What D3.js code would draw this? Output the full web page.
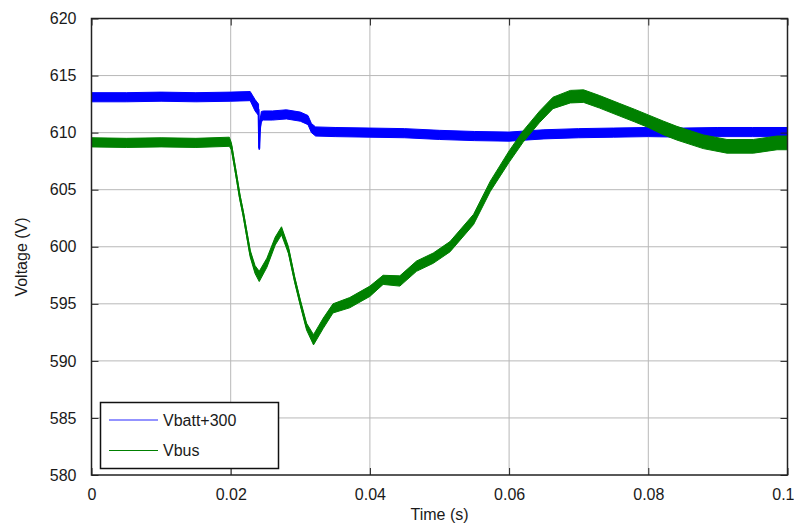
<!DOCTYPE html>
<html>
<head>
<meta charset="utf-8">
<script src="https://cdn.jsdelivr.net/npm/d3@7"></script>
<style>
  body { margin: 0; background: #fff; }
  text { font-family: "Liberation Sans", Arial, sans-serif; fill: #1a1a1a; }
</style>
</head>
<body>
<svg id="chart" width="794" height="529"></svg>
<script>
// Vbatt+300 : time (s), voltage (V), noise half-band (V)
const battT = [0, 0.005, 0.01, 0.015, 0.02, 0.0228, 0.0235, 0.024, 0.0241, 0.0242,
  0.0244, 0.0247, 0.026, 0.028, 0.030, 0.0311, 0.0316, 0.0322, 0.035, 0.04,
  0.045, 0.05, 0.055, 0.06, 0.065, 0.07, 0.075, 0.08, 0.085, 0.09, 0.095, 0.1];
const battV = [613.1, 613.1, 613.15, 613.1, 613.15, 613.2, 612.4, 612.0, 608.6, 610.5,
  611.4, 611.5, 611.5, 611.6, 611.4, 611.1, 610.4, 610.1, 610.05, 610.0,
  609.95, 609.8, 609.7, 609.65, 609.85, 609.95, 610.0, 610.05, 610.0, 610.05, 610.05, 610.05];
const battN = [0.4, 0.4, 0.4, 0.4, 0.4, 0.4, 0.5, 0.5, 0.1, 0.5,
  0.45, 0.4, 0.4, 0.4, 0.4, 0.4, 0.4, 0.4, 0.4, 0.4,
  0.4, 0.4, 0.4, 0.4, 0.4, 0.4, 0.4, 0.4, 0.4, 0.4, 0.4, 0.4];

// Vbus
const busT = [0, 0.005, 0.01, 0.015, 0.0198, 0.0201, 0.0205, 0.0209, 0.0213, 0.0218,
  0.0228, 0.0235, 0.0241, 0.0252, 0.0264, 0.0273, 0.0283, 0.0292, 0.03, 0.0309,
  0.0319, 0.0333, 0.0347, 0.0371, 0.04, 0.0419, 0.0443, 0.0467, 0.0491, 0.0515,
  0.0549, 0.0573, 0.06, 0.062, 0.0644, 0.0663, 0.0688, 0.0707, 0.073, 0.0759,
  0.078, 0.08, 0.0822, 0.0841, 0.0879, 0.0913, 0.0951, 0.0985, 0.1];
const busV = [609.15, 609.1, 609.15, 609.1, 609.2, 608.8, 607.35, 605.9, 604.4, 602.9,
  599.4, 598.0, 597.4, 598.6, 600.5, 601.4, 599.7, 597.1, 595.1, 593.0,
  591.85, 593.3, 594.6, 595.1, 596.1, 597.1, 597.0, 598.3, 599.0, 600.0,
  602.4, 605.3, 607.9, 609.65, 611.4, 612.6, 613.15, 613.2, 612.7, 612.0,
  611.5, 611.0, 610.4, 609.95, 609.2, 608.8, 608.8, 609.1, 609.1];
const busN = [0.4, 0.4, 0.4, 0.4, 0.4, 0.3, 0.25, 0.25, 0.25, 0.25,
  0.3, 0.35, 0.45, 0.4, 0.35, 0.35, 0.3, 0.25, 0.25, 0.3,
  0.45, 0.45, 0.4, 0.45, 0.45, 0.4, 0.45, 0.45, 0.45, 0.45,
  0.45, 0.45, 0.5, 0.5, 0.5, 0.5, 0.55, 0.55, 0.55, 0.55,
  0.55, 0.55, 0.6, 0.6, 0.6, 0.6, 0.6, 0.6, 0.6];

const xTicks = [0, 0.02, 0.04, 0.06, 0.08, 0.1];
const yTicks = [580, 585, 590, 595, 600, 605, 610, 615, 620];
const seriesNames = ["Vbatt+300", "Vbus"];

const svg = d3.select("#chart");
const pLeft = 91.5, pRight = 787.5, pTop = 18.5, pBottom = 475;

const x = d3.scaleLinear().domain([0, 0.1]).range([pLeft, pRight]);
const y = d3.scaleLinear().domain([580, 620]).range([pBottom, pTop]);

// grid
svg.append("g").selectAll("line").data(xTicks.slice(1, -1)).enter().append("line")
  .attr("x1", d => x(d)).attr("x2", d => x(d)).attr("y1", pTop).attr("y2", pBottom)
  .style("stroke", "#b8b8b8").style("stroke-width", 1);
svg.append("g").selectAll("line").data(yTicks.slice(1, -1)).enter().append("line")
  .attr("x1", pLeft).attr("x2", pRight).attr("y1", d => y(d)).attr("y2", d => y(d))
  .style("stroke", "#b8b8b8").style("stroke-width", 1);

function drawSeries(ts, vs, ns, color) {
  const pts = ts.map((t, i) => ({t: t, v: vs[i], n: ns[i]}));
  const band = d3.area().x(d => x(d.t)).y0(d => y(d.v - d.n)).y1(d => y(d.v + d.n));
  const line = d3.line().x(d => x(d.t)).y(d => y(d.v));
  svg.append("path").datum(pts).attr("d", band)
    .style("fill", color).style("stroke", color).style("stroke-width", 1);
  svg.append("path").datum(pts).attr("d", line)
    .style("fill", "none").style("stroke", color).style("stroke-width", 2);
}
drawSeries(battT, battV, battN, "#0000ff");
drawSeries(busT, busV, busN, "#008000");

// axes (box with inward ticks on all sides)
svg.append("g").attr("class", "xaxis").attr("transform", `translate(0,${pBottom})`)
  .call(d3.axisBottom(x).tickValues(xTicks).tickSizeInner(-7).tickSizeOuter(0).tickPadding(14)
    .tickFormat(d => d3.format("~g")(d)));
svg.append("g").attr("transform", `translate(0,${pTop})`)
  .call(d3.axisTop(x).tickValues(xTicks).tickSizeInner(-7).tickSizeOuter(0).tickFormat(""));
svg.append("g").attr("transform", `translate(${pLeft},0)`)
  .call(d3.axisLeft(y).tickValues(yTicks).tickSizeInner(-7).tickSizeOuter(0).tickPadding(15));
svg.append("g").attr("transform", `translate(${pRight},0)`)
  .call(d3.axisRight(y).tickValues(yTicks).tickSizeInner(-7).tickSizeOuter(0).tickFormat(""));
svg.selectAll(".tick text").style("font-size", "16px").style("font-family", "Liberation Sans, Arial, sans-serif").attr("fill", "#1a1a1a");
// last x label sits against the window edge
svg.selectAll(".xaxis .tick text").filter(d => d === 0.1)
  .attr("text-anchor", "end").attr("x", 794 - pRight);
svg.selectAll(".domain").remove();
svg.selectAll(".tick line").style("stroke", "#222");

svg.append("rect").attr("x", pLeft).attr("y", pTop).attr("width", pRight - pLeft).attr("height", pBottom - pTop)
  .style("fill", "none").style("stroke", "#222").style("stroke-width", 1.5);

// axis labels
svg.append("text").attr("x", (pLeft + pRight) / 2).attr("y", 520).attr("text-anchor", "middle")
  .style("font-size", "16px").text("Time (s)");
svg.append("text").attr("transform", "translate(27,257) rotate(-90)").attr("text-anchor", "middle")
  .style("font-size", "16px").text("Voltage (V)");

// legend
const lg = svg.append("g");
lg.append("rect").attr("x", 100.5).attr("y", 402.5).attr("width", 178).attr("height", 66)
  .style("fill", "#fff").style("stroke", "#111").style("stroke-width", 1.5);
const legColors = ["#6f6fff", "#008000"];
lg.selectAll("line").data(seriesNames).enter().append("line")
  .attr("x1", 109).attr("x2", 158).attr("y1", (d, i) => 420 + i * 30.5).attr("y2", (d, i) => 420 + i * 30.5)
  .style("stroke", (d, i) => legColors[i]).style("stroke-width", (d, i) => i === 0 ? 1.6 : 1.2);
lg.selectAll("text").data(seriesNames).enter().append("text")
  .attr("x", 163).attr("y", (d, i) => 425.7 + i * 30.5).style("font-size", "16px").text(d => d);
</script>
</body>
</html>
